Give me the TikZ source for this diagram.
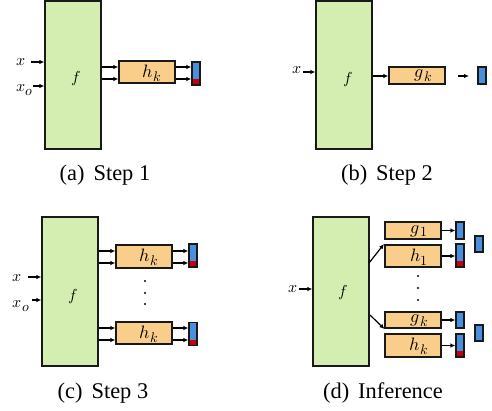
\documentclass[tikz,border=0pt]{standalone}
\usepackage{fontspec}
\setmainfont{Liberation Serif}
\usepackage{unicode-math}
\setmathfont{Latin Modern Math}
\usetikzlibrary{arrows.meta,calc}
\definecolor{fgreen}{HTML}{D4EDB0}
\definecolor{horange}{HTML}{F9CE8B}
\definecolor{bblue}{HTML}{4A8FDC}
\definecolor{bred}{HTML}{C8000C}
\newcommand{\mysub}[2]{$#1$\kern0.5bp\raisebox{-3.8bp}{\fontsize{14}{14}\selectfont$#2$}}
\begin{document}
\begin{tikzpicture}[x=1bp,y=-1bp,
  fbox/.style={draw=black!90,line width=1.3bp,fill=fgreen,minimum width=56bp,minimum height=148bp,inner sep=0pt},
  hbox/.style={draw=black!90,line width=1.3bp,fill=horange,minimum width=56bp,minimum height=22bp,inner sep=0pt},
  gbox/.style={hbox,minimum height=17bp},
  outbar/.style={draw=black!90,line width=1.3bp,fill=bblue,minimum width=8bp,minimum height=17bp,inner sep=0pt},
  rbar/.style={outbar,minimum height=23bp,path picture={\fill[bred] (path picture bounding box.south west) rectangle ($(path picture bounding box.south east)+(0,6bp)$);}},
  arr/.style={line width=1.2bp,-{Latex[length=5bp,width=4.5bp]}},
  mlbl/.style={font=\fontsize{16}{18}\selectfont,inner sep=0pt},
  blbl/.style={font=\fontsize{18}{20}\selectfont,inner sep=0pt},
  captxt/.style={font=\fontsize{22.5}{26}\selectfont,inner sep=0pt},
  bdot/.style={circle,fill=black,inner sep=0pt,minimum size=2.4bp}
]
\useasboundingbox (0,0) rectangle (492,410);

% ---------- (a) ----------
\node[fbox] (fa) at (73,75) {};
\node[mlbl] (fla) at (76,79) {$f$};
\node[mlbl] (xa) at (21,62) {$x$};
\node[mlbl] (xoa) at (24.5,90) {\mysub{x}{o}};
\coordinate (xas) at (31,62);
\coordinate (xoas) at (33,86);
\draw[arr] (xas) -- (xas -| fa.west);
\draw[arr] (xoas) -- (xoas -| fa.west);
\node[hbox] (hka) at (147,72) {};
\node[blbl] (hkla) at (152,73) {\mysub{h}{k}};
\draw[arr] (fa.east |- 0,67) -- (hka.west |- 0,67);
\draw[arr] (fa.east |- 0,79) -- (hka.west |- 0,79);
\node[rbar] (ba) at (196,73.5) {};
\draw[arr] (hka.east |- 0,67) -- (ba.west |- 0,67);
\draw[arr] (hka.east |- 0,79) -- (ba.west |- 0,79);
\node[captxt] (capa) at (105,175) {(a)\hspace{0.4em}Step 1};

% ---------- (b) ----------
\node[fbox] (fb) at (344,75) {};
\node[mlbl] (flb) at (348,80) {$f$};
\node[mlbl] (xb) at (297,70) {$x$};
\coordinate (xbs) at (303,72);
\draw[arr] (xbs) -- (xbs -| fb.west);
\node[gbox] (gkb) at (417,75.5) {};
\node[blbl] (gklb) at (423,76) {\mysub{g}{k}};
\draw[arr] (fb.east |- 0,76) -- (gkb.west |- 0,76);
\node[outbar] (bb) at (482,75.5) {};
\coordinate (bbs) at (458,76);
\coordinate (bbe) at (469,76);
\draw[arr] (bbs) -- (bbe);
\node[captxt] (capb) at (387,175) {(b)\hspace{0.4em}Step 2};

% ---------- (c) ----------
\node[fbox,minimum height=149bp] (fc) at (70,291.5) {};
\node[mlbl] (flc) at (73,297) {$f$};
\node[mlbl] (xc) at (17,278) {$x$};
\node[mlbl] (xoc) at (21,306) {\mysub{x}{o}};
\coordinate (xcs) at (28,277);
\coordinate (xocs) at (32,300);
\draw[arr] (xcs) -- (xcs -| fc.west);
\draw[arr] (xocs) -- (xocs -| fc.west);
\node[hbox,minimum height=23bp] (hc1) at (144,256.5) {};
\node[blbl] (hcl1) at (149,257.5) {\mysub{h}{k}};
\node[rbar] (bc1) at (193,255.5) {};
\draw[arr] (fc.east |- 0,251) -- (hc1.west |- 0,251);
\draw[arr] (fc.east |- 0,263) -- (hc1.west |- 0,263);
\draw[arr] (hc1.east |- 0,251) -- (bc1.west |- 0,251);
\draw[arr] (hc1.east |- 0,263) -- (bc1.west |- 0,263);
\node[bdot] (dc1) at (145,281) {};
\node[bdot] (dc2) at (145,293) {};
\node[bdot] (dc3) at (145,304) {};
\node[hbox] (hc2) at (144,333) {};
\node[blbl] (hcl2) at (149,334) {\mysub{h}{k}};
\node[rbar] (bc2) at (193,334) {};
\draw[arr] (fc.east |- 0,328) -- (hc2.west |- 0,328);
\draw[arr] (fc.east |- 0,340) -- (hc2.west |- 0,340);
\draw[arr] (hc2.east |- 0,328) -- (bc2.west |- 0,328);
\draw[arr] (hc2.east |- 0,340) -- (bc2.west |- 0,340);
\node[captxt] (capc) at (103,393) {(c)\hspace{0.4em}Step 3};

% ---------- (d) ----------
\node[fbox,minimum height=149bp] (fd) at (341,291.5) {};
\node[mlbl] (fld) at (343,293) {$f$};
\node[mlbl] (xd) at (293,289) {$x$};
\coordinate (xds) at (299,289);
\draw[arr] (xds) -- (xds -| fd.west);
\node[gbox] (g1) at (413,230.5) {};
\node[blbl] (g1l) at (419,231) {\mysub{g}{1}};
\node[hbox] (h1) at (413,256) {};
\node[blbl] (h1l) at (419,257) {\mysub{h}{1}};
\node[gbox,minimum height=16bp] (gk) at (413,320) {};
\node[blbl] (gkl) at (419,320.5) {\mysub{g}{k}};
\node[hbox,minimum height=23bp] (hk) at (413,345.5) {};
\node[blbl] (hkl) at (419,346.5) {\mysub{h}{k}};
\coordinate (d1s) at (369,263);
\coordinate (d1e) at (384,244);
\coordinate (d2s) at (370,315);
\coordinate (d2e) at (384.5,329);
\draw[arr] (d1s) -- (d1e);
\draw[arr] (d2s) -- (d2e);
\node[outbar] (bg1) at (460,230.5) {};
\node[rbar] (bh1) at (460,255.5) {};
\node[outbar,minimum height=16bp] (bgk) at (460,320) {};
\node[rbar] (bhk) at (460,345.5) {};
\draw[arr] (g1.east) -- (bg1.west);
\draw[arr] (h1.east) -- (h1.east -| bh1.west);
\draw[arr] (gk.east) -- (bgk.west);
\draw[arr] (hk.east) -- (hk.east -| bhk.west);
\node[outbar,minimum height=16bp] (be1) at (479,244) {};
\node[outbar,minimum height=16bp] (be2) at (479,333) {};
\node[bdot] (dd1) at (418,276) {};
\node[bdot] (dd2) at (418,288) {};
\node[bdot] (dd3) at (418,300) {};
\node[captxt] (capd) at (383,393) {(d)\hspace{0.4em}Inference};
\end{tikzpicture}
\end{document}
